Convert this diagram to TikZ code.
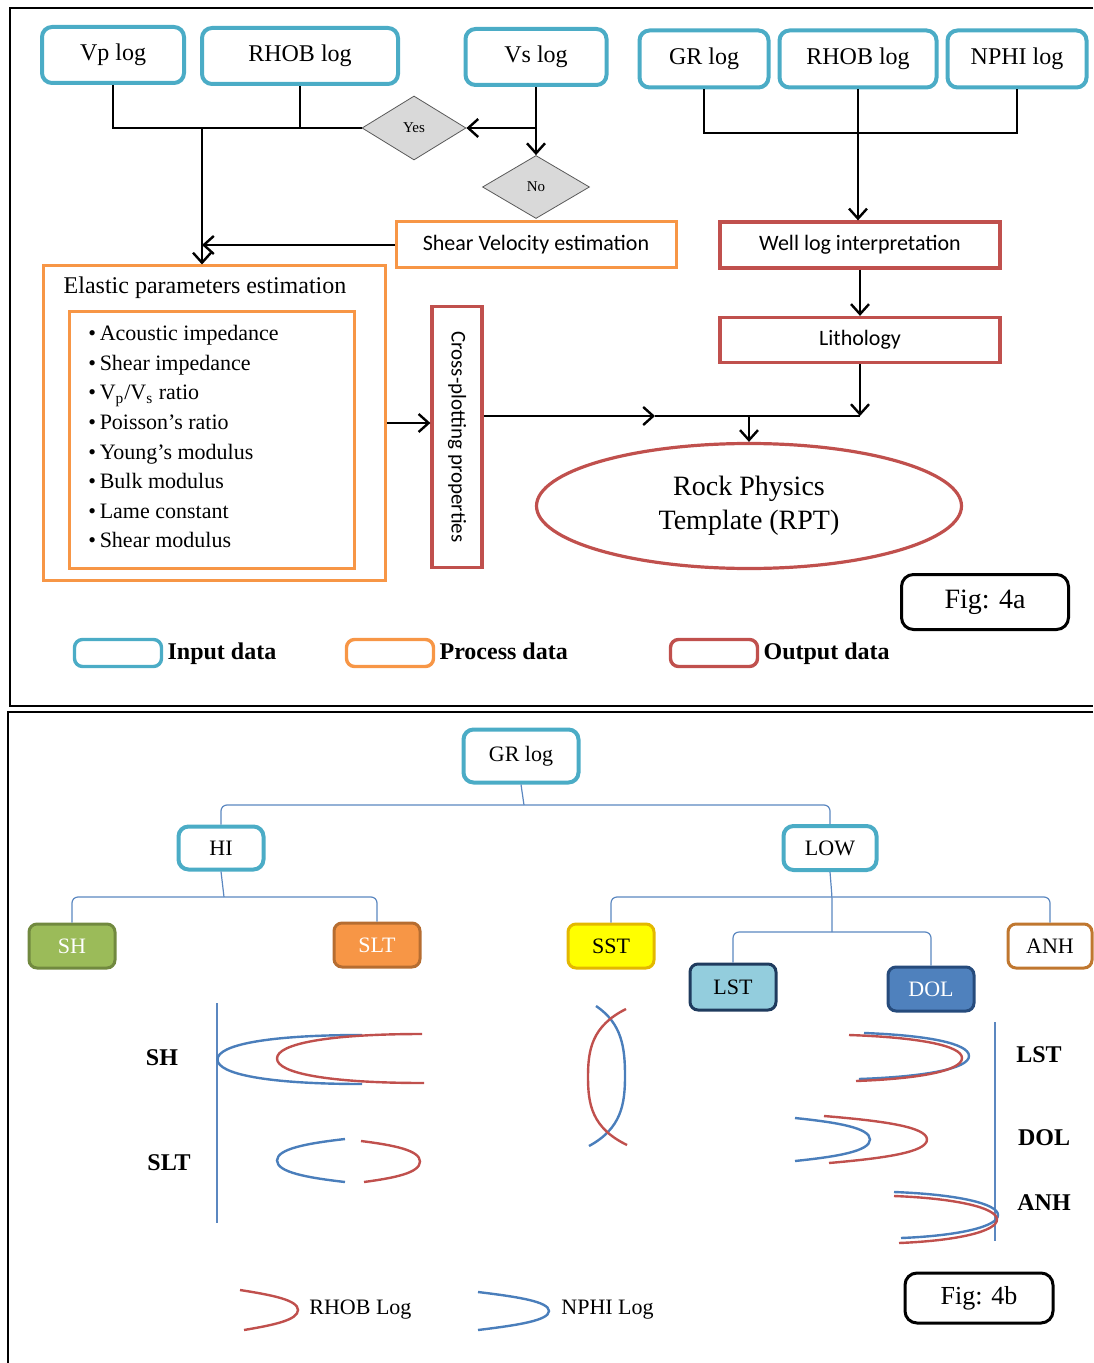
\documentclass[tikz,border=0pt]{standalone}
\usepackage{fontspec}
\setmainfont{Liberation Serif}
\newfontfamily\calibri{Carlito}
\usetikzlibrary{shapes.geometric,arrows.meta,positioning}

\definecolor{inblue}{HTML}{4BACC6}
\definecolor{procorange}{HTML}{F79646}
\definecolor{outred}{HTML}{C0504D}
\definecolor{treeblue}{HTML}{5B87C0}
\definecolor{rhobred}{HTML}{C0504D}
\definecolor{nphiblue}{HTML}{4A7EBB}
\definecolor{shgreen}{HTML}{9BBB59}
\definecolor{shgreenD}{HTML}{71893F}
\definecolor{sltorange}{HTML}{F79646}
\definecolor{sltorangeD}{HTML}{B66D31}
\definecolor{sstyellow}{HTML}{FFFF00}
\definecolor{sstyellowD}{HTML}{E3B800}
\definecolor{anhbrown}{HTML}{C0772F}
\definecolor{lstblue}{HTML}{93CDDD}
\definecolor{lstblueD}{HTML}{1F3B5E}
\definecolor{dolblue}{HTML}{4F81BD}
\definecolor{dolblueD}{HTML}{264B7C}

\def\pxu{0.5pt}

\begin{document}
\begin{tikzpicture}[
  x=0.5pt, y=-0.5pt,
  inbox/.style={draw=inblue, line width=2pt, rounded corners=5pt, inner sep=0pt},
  procbox/.style={draw=procorange, line width=1.5pt, inner sep=0pt},
  outbox/.style={draw=outred, line width=1.6pt, inner sep=0pt},
  decision/.style={diamond, draw=gray!70!black, fill=gray!30, inner sep=0pt,
    font=\fontsize{7.5}{9}\selectfont},
  line/.style={line width=1.2pt},
  arrow/.style={line, -{Straight Barb[length=5pt,width=9pt]}},
  tree/.style={draw=treeblue, line width=0.6pt, rounded corners=3pt},
  litho/.style={rounded corners=4pt, line width=1.5pt, inner sep=0pt,
    minimum width=86*\pxu, minimum height=44*\pxu, font=\fontsize{11}{13}\selectfont},
  legtext/.style={inner sep=0pt, text height=8.5pt, text depth=2.5pt,
    font=\bfseries\fontsize{12}{14}\selectfont},
  curve/.style={line width=1.2pt},
  every node/.style={font=\fontsize{12}{14}\selectfont}
]
\useasboundingbox (0,0) rectangle (1093,1363);

% ==========================================================
% Fig 4a - fluxograma
% ==========================================================
\draw[line width=1pt] (1093,8) -- (10,8) -- (10,706) -- (1093,706);

% logs de entrada
\node[inbox, minimum width=142*\pxu, minimum height=56*\pxu] (vp) at (113,55) {Vp log};
\node[inbox, minimum width=196*\pxu, minimum height=56*\pxu] (rhobA) at (300,56) {RHOB log};
\node[inbox, minimum width=141*\pxu, minimum height=56*\pxu] (vs) at (536,57) {Vs log};
\node[inbox, minimum width=129*\pxu, minimum height=57*\pxu] (gr) at (704,59) {GR log};
\node[inbox, minimum width=157*\pxu, minimum height=57*\pxu] (rhobB) at (858,59) {RHOB log};
\node[inbox, minimum width=139*\pxu, minimum height=57*\pxu] (nphi) at (1017,59) {NPHI log};

% decisoes
\node[decision, minimum width=104*\pxu, minimum height=64*\pxu] (yes) at (414,128) {Yes};
\node[decision, minimum width=107*\pxu, minimum height=63*\pxu] (no) at (536,187) {No};

% processos
\node[procbox, minimum width=280*\pxu, minimum height=46*\pxu,
  font=\calibri\fontsize{11}{13}\selectfont] (shear) at (536,245) {Shear Velocity estimation};
\node[procbox, minimum width=342*\pxu, minimum height=314*\pxu] (elastic) at (214,423) {};
\node (eltitle) at (205,288) {Elastic parameters estimation};
\node[procbox, minimum width=285*\pxu, minimum height=256*\pxu] (inner) at (212,440) {};
\node[anchor=north west, align=left, inner sep=0pt,
  font=\fontsize{11}{14.8}\selectfont] (params) at (88,325)
  {\textbullet\,Acoustic impedance\\
   \textbullet\,Shear impedance\\
   \textbullet\,V\textsubscript{p}/V\textsubscript{s} ratio\\
   \textbullet\,Poisson’s ratio\\
   \textbullet\,Young’s modulus\\
   \textbullet\,Bulk modulus\\
   \textbullet\,Lame constant\\
   \textbullet\,Shear modulus};

% saidas
\node[outbox, minimum width=50*\pxu, minimum height=261*\pxu] (cross) at (457,437) {};
\node[rotate=-90, font=\calibri\fontsize{10.5}{12}\selectfont] (crosstext) at (cross.center)
  {Cross-plotting properties};
\node[outbox, minimum width=280*\pxu, minimum height=46*\pxu,
  font=\calibri\fontsize{11}{13}\selectfont] (well) at (860,245) {Well log interpretation};
\node[outbox, minimum width=280*\pxu, minimum height=45*\pxu,
  font=\calibri\fontsize{11}{13}\selectfont] (lith) at (860,340) {Lithology};
\node[ellipse, draw=outred, line width=1.6pt, inner sep=0pt, align=center,
  minimum width=425*\pxu, minimum height=125*\pxu,
  font=\fontsize{14}{17}\selectfont] (rpt) at (749,506) {Rock Physics\\Template (RPT)};

% ligacoes
\coordinate (split) at (202,128);
\coordinate (bus) at (858,133);
\coordinate (join) at (860,416);
\coordinate (crossmid) at (655,416);

\draw[line] (vp.south) |- (yes.west);
\draw[line] (rhobA.south) -- (rhobA.south |- yes.west);
\draw[arrow] (vs.south) |- (yes.east);
\draw[arrow] (vs.south |- yes.east) -- (no.north);
\draw[arrow] (split) -- (split |- elastic.north);
\draw[arrow] (shear.west) -- (shear.west -| split);
\draw[arrow] (elastic.east) -- (elastic.east -| cross.west);

\draw[line] (gr.south) |- (bus) -| (nphi.south);
\draw[arrow] (rhobB.south) -- (rhobB.south |- well.north);
\draw[arrow] (well.south) -- (lith.north);
\draw[arrow] (lith.south) -- (join);
\draw[arrow] (join -| cross.east) -- (crossmid);
\draw[line] (crossmid) -- (join);
\draw[arrow] (join -| rpt.north) -- (rpt.north);

\node[draw, line width=1.5pt, rounded corners=6pt, minimum width=167*\pxu,
  minimum height=55*\pxu, font=\fontsize{14}{16}\selectfont] (figa) at (985,602) {Fig: 4a};

% legenda
\node[inbox, rounded corners=4pt, line width=1.7pt, minimum width=87*\pxu,
  minimum height=27*\pxu] (legin) at (118,653) {};
\node[legtext, right=2pt of legin] (legintxt) {Input data};
\node[procbox, rounded corners=4pt, line width=1.7pt, minimum width=87*\pxu,
  minimum height=27*\pxu] (legproc) at (390,653) {};
\node[legtext, right=2pt of legproc] (legproctxt) {Process data};
\node[outbox, rounded corners=4pt, line width=1.7pt, minimum width=87*\pxu,
  minimum height=27*\pxu] (legout) at (714,653) {};
\node[legtext, right=2pt of legout] (legouttxt) {Output data};

% ==========================================================
% Fig 4b - arvore de litologia
% ==========================================================
\draw[line width=1pt] (1093,712) -- (8,712) -- (8,1363);

\node[inbox, minimum width=115*\pxu, minimum height=53*\pxu,
  font=\fontsize{11}{13}\selectfont] (grtree) at (521,756) {GR log};
\node[inbox, minimum width=85*\pxu, minimum height=43*\pxu,
  font=\fontsize{11}{13}\selectfont] (hi) at (221,848) {HI};
\node[inbox, minimum width=93*\pxu, minimum height=44*\pxu,
  font=\fontsize{11}{13}\selectfont] (low) at (830,848) {LOW};

\node[litho, fill=shgreen, draw=shgreenD, text=white] (sh) at (72,946) {SH};
\node[litho, fill=sltorange, draw=sltorangeD, text=white] (slt) at (377,945) {SLT};
\node[litho, fill=sstyellow, draw=sstyellowD] (sst) at (611,946) {SST};
\node[litho, fill=white, draw=anhbrown, minimum width=84*\pxu] (anh) at (1050,946) {ANH};
\node[litho, fill=lstblue, draw=lstblueD, minimum height=46*\pxu] (lst) at (733,987) {LST};
\node[litho, fill=dolblue, draw=dolblueD, text=white] (dol) at (931,989) {DOL};

\coordinate (busgr) at (524,805);
\coordinate (bushi) at (224,897);
\coordinate (buslow) at (832,897);
\coordinate (buslowB) at (832,932);

\draw[tree] (hi.north) |- (busgr) -| (low.north);
\draw[tree] (grtree.south) -- (busgr);
\draw[tree] (sh.north) |- (bushi) -| (slt.north);
\draw[tree] (hi.south) -- (bushi);
\draw[tree] (sst.north) |- (buslow) -| (anh.north);
\draw[tree] (low.south) -- (buslow) -- (buslowB);
\draw[tree] (lst.north) |- (buslowB) -| (dol.north);

% eixos e curvas RHOB/NPHI
\draw[treeblue, line width=0.6pt] (217,1003) -- (217,1223);
\draw[treeblue, line width=0.6pt] (995,1022) -- (995,1241);

% cor / ponta de cima / ponta de baixo / vertice / forma (p,q,s)
\foreach \c/\xa/\ya/\xb/\yb/\xv/\p/\q/\s in {
  nphiblue/362/1035/362/1084/217.5/0.65/0/0.6, rhobred/422/1034/424/1083/277/0.65/0/0.6,
  nphiblue/345/1139/345/1182/277/0.55/0.2/0.55, rhobred/361/1141/364/1182/420/0.55/0.2/0.55,
  nphiblue/596/1006/589/1146/625/0.9/0.25/0.4,  rhobred/626/1009/627/1145/588/0.9/0.25/0.4,
  nphiblue/864/1033/859/1079/969/0.6/0.1/0.55,  rhobred/849/1035/856/1081/962/0.6/0.1/0.55,
  nphiblue/795/1118/795/1161/870/0.55/0.2/0.55, rhobred/824/1116/829/1163/927/0.55/0.2/0.55,
  nphiblue/894/1192/901/1238/998/0.6/0.1/0.5,   rhobred/894/1196/899/1243/997/0.6/0.1/0.5,
  rhobred/240/1290/244/1330/298/0.55/0.25/0.5,  nphiblue/478/1292/478/1330/549/0.55/0.25/0.5
}{
  \pgfmathsetmacro\ym{(\ya+\yb)/2}
  \pgfmathsetmacro\cax{\xa+\p*(\xv-\xa)}
  \pgfmathsetmacro\cay{\ya+\q*(\ym-\ya)}
  \pgfmathsetmacro\cby{\ym-\s*(\ym-\ya)}
  \pgfmathsetmacro\ccy{\ym+\s*(\yb-\ym)}
  \pgfmathsetmacro\cdx{\xb+\p*(\xv-\xb)}
  \pgfmathsetmacro\cdy{\yb-\q*(\yb-\ym)}
  \draw[curve, \c] (\xa,\ya) .. controls (\cax,\cay) and (\xv,\cby) .. (\xv,\ym)
    .. controls (\xv,\ccy) and (\cdx,\cdy) .. (\xb,\yb);
}

\node[font=\bfseries\fontsize{12}{14}\selectfont] (labsh) at (162,1058) {SH};
\node[font=\bfseries\fontsize{12}{14}\selectfont] (labslt) at (169,1163) {SLT};
\node[font=\bfseries\fontsize{12}{14}\selectfont] (lablst) at (1039,1055) {LST};
\node[font=\bfseries\fontsize{12}{14}\selectfont] (labdol) at (1044,1138) {DOL};
\node[font=\bfseries\fontsize{12}{14}\selectfont] (labanh) at (1044,1203) {ANH};

\node[anchor=west, inner sep=0pt, font=\fontsize{11}{13}\selectfont] (legrhob) at (309,1310) {RHOB Log};
\node[anchor=west, inner sep=0pt, font=\fontsize{11}{13}\selectfont] (legnphi) at (561,1310) {NPHI Log};

\node[draw, line width=1.5pt, rounded corners=6pt, minimum width=148*\pxu,
  minimum height=50*\pxu, font=\fontsize{13}{15}\selectfont] (figb) at (979,1298) {Fig: 4b};

\end{tikzpicture}
\end{document}
